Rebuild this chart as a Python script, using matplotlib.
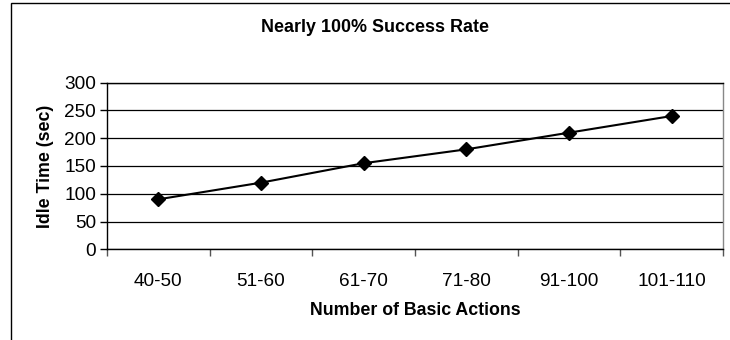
import matplotlib
matplotlib.use("Agg")
import matplotlib.pyplot as plt
from matplotlib.patches import Rectangle
import numpy as np

plt.rcParams['font.family'] = ['Liberation Sans', 'DejaVu Sans']

categories = ["40-50", "51-60", "61-70", "71-80", "91-100", "101-110"]
idle_time = [90, 120, 155, 180, 210, 240]
y_ticks = [0, 50, 100, 150, 200, 250, 300]

W, H = 730, 340
fig = plt.figure(figsize=(W / 100, H / 100), dpi=100)

# outer chart frame (runs past the right and bottom edges)
fig.patches.append(Rectangle((11 / W, -0.1), 1.2, 1 - 3.5 / H + 0.1,
                             transform=fig.transFigure, fill=False,
                             edgecolor='black', linewidth=1.0))

left, right, top, bottom = 107, 723, 82.7, 249.3
ax = fig.add_axes([left / W, 1 - bottom / H, (right - left) / W, (bottom - top) / H])

x = np.arange(len(categories))
ax.plot(x, idle_time, color='black', linewidth=1.5, marker='D',
        markersize=7.5, markerfacecolor='black', zorder=3, clip_on=False)

ax.set_xlim(-0.5, len(categories) - 0.5)
ax.set_ylim(0, 300)
ax.set_yticks(y_ticks)
ax.set_yticklabels([str(v) for v in y_ticks], fontsize=13.7)
ax.yaxis.grid(True, color='black', linewidth=0.9)
ax.set_axisbelow(True)

ax.set_xticks(x)
ax.set_xticklabels(categories, fontsize=13.7)
ax.tick_params(axis='x', length=0, pad=17)
ax.set_xticks(np.arange(len(categories) + 1) - 0.5, minor=True)
ax.tick_params(axis='x', which='minor', length=5, width=1, color='#555555', direction='out')
ax.tick_params(axis='y', length=5, width=1, direction='out', pad=3)

for s in ['left', 'top', 'bottom']:
    ax.spines[s].set_color('black')
    ax.spines[s].set_linewidth(1.0)
ax.spines['right'].set_color('#888888')
ax.spines['right'].set_linewidth(1.0)

ax.set_ylabel("Idle Time (sec)", fontsize=12.8, fontweight='bold', labelpad=7)
ax.set_xlabel("Number of Basic Actions", fontsize=12.8, fontweight='bold', labelpad=9)

fig.text(375 / W, 1 - 27 / H, "Nearly 100% Success Rate", ha='center', va='center',
         fontsize=12.9, fontweight='bold')

fig.savefig("out.png", dpi=100, facecolor='white')
